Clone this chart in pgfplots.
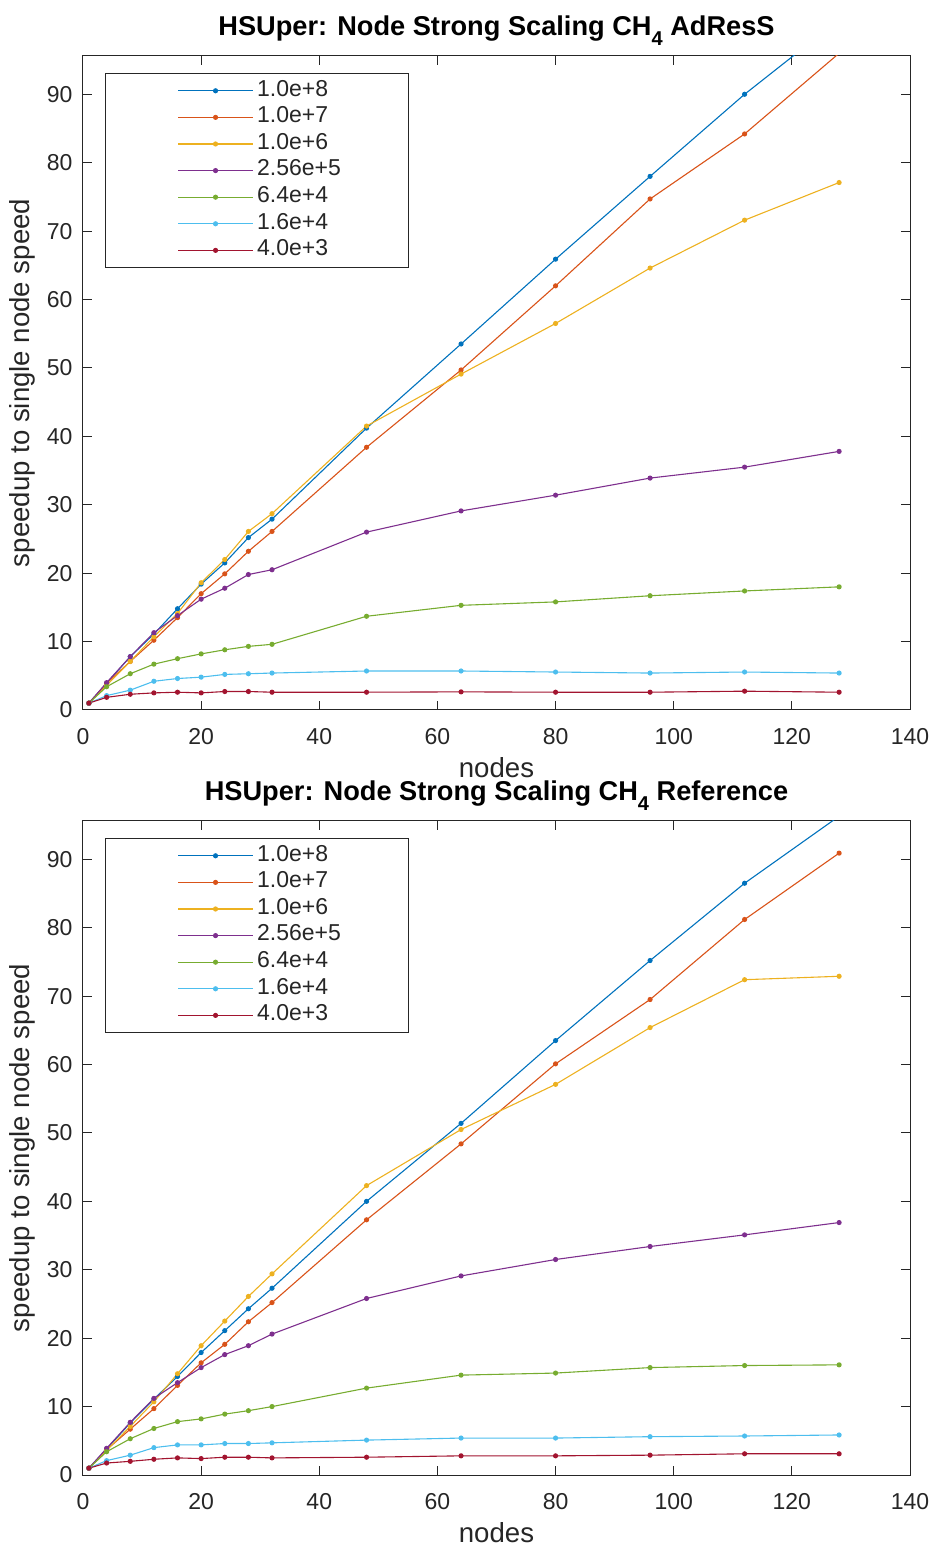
\documentclass[border=0pt]{standalone}
\usepackage{pgfplots}
\pgfplotsset{compat=1.18}
\usepackage{pgfplotstable}
\usepackage{fontspec}
\setmainfont{Liberation Sans}
\definecolor{c1}{rgb}{0,0.447,0.741}
\definecolor{c2}{rgb}{0.85,0.325,0.098}
\definecolor{c3}{rgb}{0.929,0.694,0.125}
\definecolor{c4}{rgb}{0.494,0.184,0.556}
\definecolor{c5}{rgb}{0.466,0.674,0.188}
\definecolor{c6}{rgb}{0.301,0.745,0.933}
\definecolor{c7}{rgb}{0.635,0.078,0.184}
\definecolor{axgray}{RGB}{38,38,38}

\pgfplotstableread{
x s1 s2 s3 s4 s5 s6 s7
1 1 1 1 1 1 1 1
4 3.9 3.9 3.6 4.0 3.4 2.1 1.85
8 7.8 7.1 7.1 7.8 5.3 2.9 2.3
12 11.1 10.2 10.7 11.3 6.7 4.2 2.5
16 14.8 13.5 14.1 13.8 7.5 4.6 2.6
20 18.4 17.0 18.6 16.2 8.2 4.8 2.5
24 21.5 19.9 22.0 17.8 8.8 5.2 2.7
28 25.2 23.2 26.1 19.8 9.3 5.3 2.7
32 27.9 26.1 28.7 20.5 9.6 5.4 2.6
48 41.2 38.4 41.5 26.0 13.7 5.7 2.6
64 53.5 49.7 49.1 29.1 15.3 5.7 2.65
80 65.9 62.0 56.5 31.4 15.8 5.55 2.6
96 78.0 74.7 64.6 33.9 16.7 5.4 2.6
112 90.0 84.2 71.6 35.5 17.4 5.55 2.75
128 100.9 96.0 77.1 37.8 18.0 5.4 2.6
}\adress

\pgfplotstableread{
x s1 s2 s3 s4 s5 s6 s7
1 1 1 1 1 1 1 1
4 3.8 3.7 3.6 3.9 3.4 2.1 1.75
8 7.6 6.7 7.1 7.7 5.3 2.9 2.0
12 11.1 9.7 10.7 11.2 6.8 4.0 2.3
16 14.4 13.1 14.8 13.5 7.8 4.4 2.5
20 17.9 16.4 18.9 15.7 8.2 4.4 2.4
24 21.1 19.1 22.5 17.6 8.9 4.6 2.6
28 24.3 22.4 26.1 18.9 9.4 4.6 2.6
32 27.3 25.2 29.4 20.6 10.0 4.7 2.5
48 40.0 37.3 42.3 25.8 12.7 5.1 2.6
64 51.4 48.4 50.5 29.1 14.6 5.4 2.8
80 63.5 60.1 57.1 31.5 14.9 5.4 2.8
96 75.2 69.5 65.4 33.4 15.7 5.6 2.9
112 86.5 81.2 72.4 35.1 16.0 5.7 3.1
128 96.3 90.9 72.9 36.9 16.1 5.85 3.1
}\reference

\newcommand{\subfour}{\raisebox{-5pt}{\fontsize{10}{11}\selectfont 4}}

\pgfplotsset{
  mystyle/.style={
    scale only axis,
    width=413.5pt, height=327pt,
    xmin=0, xmax=140, ymin=0, ymax=95.6,
    xtick={0,20,...,140}, ytick={0,10,...,90},
    tick align=inside, major tick length=4.5pt,
    axis line style={axgray, line width=0.5pt},
    every tick/.style={axgray, line width=0.5pt},
    tick label style={font=\fontsize{11.5}{13}\selectfont, text=axgray},
    xticklabel style={yshift=-5.5pt},
    yticklabel style={xshift=-1.7pt},
    /pgf/number format/assume math mode=true,
    label style={font=\fontsize{13.8}{16}\selectfont, text=axgray},
    xlabel={nodes},
    ylabel={speedup to single node speed},
    xlabel style={at={(0.5,0)}, anchor=center, yshift=-29pt, inner sep=0pt},
    ylabel style={at={(0,0.5)}, anchor=south, yshift=20.5pt},
    title style={font=\bfseries\fontsize{13.6}{15}\selectfont, at={(0.5,1)}, anchor=base, yshift=4pt, inner sep=0pt},
    every axis plot/.append style={line width=0.55pt, mark=*, mark size=1pt},
    legend image code/.code={
      \path (-36pt,0pt);
      \draw[mark repeat=2,mark phase=2,##1] plot coordinates {(0pt,0pt)(18.75pt,0pt)(37.5pt,0pt)};
    },
    legend cell align=left,
    legend style={at={(0.0266,0.974)}, anchor=north west, draw=axgray, line width=0.5pt,
      inner xsep=0pt, inner ysep=2pt, row sep=0pt,
      font=\fontsize{11.5}{13}\selectfont, text=axgray,
      nodes={inner ysep=0pt, inner xsep=1.75pt, text height=9.3pt, text depth=4pt}},
  }
}

\newcommand{\plotall}[1]{%
  \addplot[c1] table[x=x,y=s1] {#1}; \addlegendentry{\makebox[74pt][l]{1.0e+8}}
  \addplot[c2] table[x=x,y=s2] {#1}; \addlegendentry{\makebox[74pt][l]{1.0e+7}}
  \addplot[c3] table[x=x,y=s3] {#1}; \addlegendentry{\makebox[74pt][l]{1.0e+6}}
  \addplot[c4] table[x=x,y=s4] {#1}; \addlegendentry{\makebox[74pt][l]{2.56e+5}}
  \addplot[c5] table[x=x,y=s5] {#1}; \addlegendentry{\makebox[74pt][l]{6.4e+4}}
  \addplot[c6] table[x=x,y=s6] {#1}; \addlegendentry{\makebox[74pt][l]{1.6e+4}}
  \addplot[c7] table[x=x,y=s7] {#1}; \addlegendentry{\makebox[74pt][l]{4.0e+3}}
}

\begin{document}
\begin{tikzpicture}
\useasboundingbox (-41.5pt,-34.5pt) rectangle (426pt,737.5pt);
\begin{axis}[mystyle, at={(0pt,382.5pt)}, anchor=south west,
  title={HSUper: Node Strong Scaling CH\subfour{} AdResS}]
\plotall{\adress}
\end{axis}
\begin{axis}[mystyle, at={(0pt,0pt)}, anchor=south west,
  title={HSUper: Node Strong Scaling CH\subfour{} Reference}]
\plotall{\reference}
\end{axis}
\end{tikzpicture}
\end{document}
